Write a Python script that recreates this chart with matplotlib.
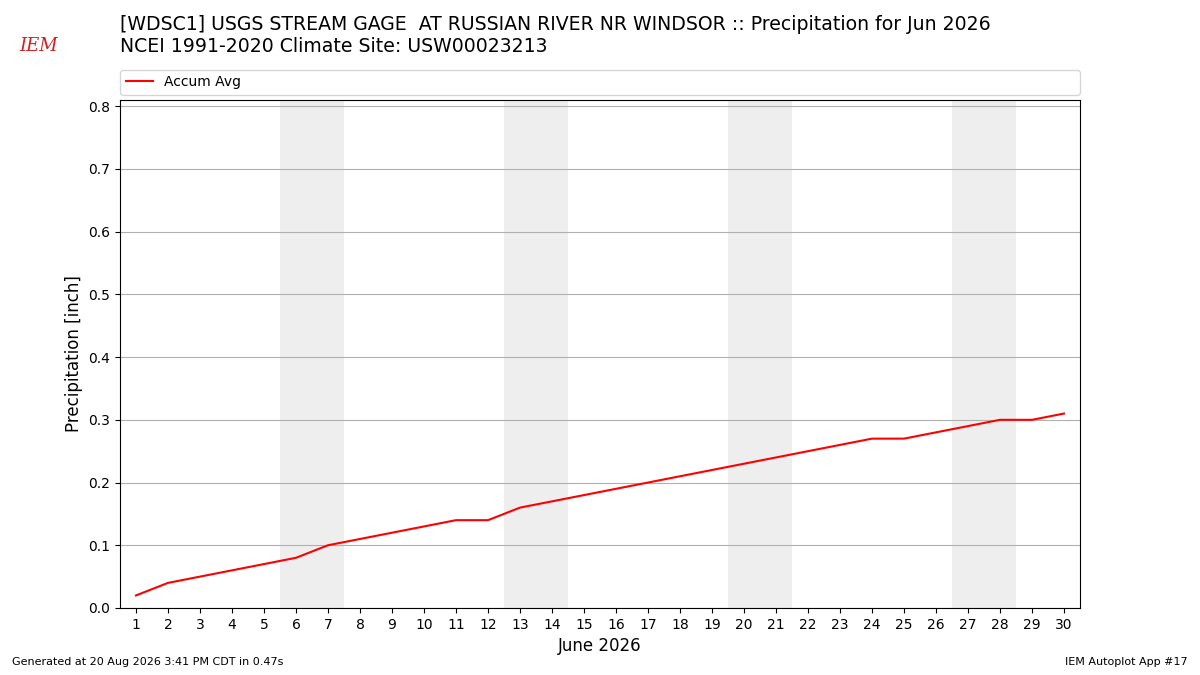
import matplotlib
matplotlib.use("Agg")
import matplotlib.pyplot as plt

days = list(range(1, 31))
accum_avg = [0.02, 0.04, 0.05, 0.06, 0.07, 0.08, 0.10, 0.11, 0.12, 0.13,
             0.14, 0.14, 0.16, 0.17, 0.18, 0.19, 0.20, 0.21, 0.22, 0.23,
             0.24, 0.25, 0.26, 0.27, 0.27, 0.28, 0.29, 0.30, 0.30, 0.31]
weekend_starts = [6, 13, 20, 27]
yticks = [0.0, 0.1, 0.2, 0.3, 0.4, 0.5, 0.6, 0.7, 0.8]

fig = plt.figure(figsize=(12, 6.75), dpi=100)
ax = fig.add_axes([0.1, 0.0993, 0.8, 0.7526])

# weekend shading
for d in weekend_starts:
    ax.axvspan(d - 0.5, d + 1.5, color="#eeeeee", zorder=0, lw=0)

ax.plot(days, accum_avg, color="red", lw=1.5, label="Accum Avg", zorder=3)

ax.set_xlim(0.5, 30.5)
ax.set_ylim(0, 0.81)
ax.set_xticks(days)
ax.set_yticks(yticks)
ax.tick_params(labelsize=10)
ax.grid(axis="y", color="#b0b0b0", lw=0.8)
ax.set_axisbelow(True)
ax.set_xlabel("June 2026", fontsize=12)
ax.set_ylabel("Precipitation [inch]", fontsize=12)

ax.legend(loc="lower left", bbox_to_anchor=(0, 1.01, 1, 0.05), mode="expand",
          ncol=1, fontsize=10, borderaxespad=0)

fig.text(0.1, 0.947, "[WDSC1] USGS STREAM GAGE  AT RUSSIAN RIVER NR WINDSOR :: Precipitation for Jun 2026\n"
         "NCEI 1991-2020 Climate Site: USW00023213", fontsize=13.6, va="center", ha="left")

# logo stand-in
fig.text(0.032, 0.932, "IEM", color="#d42020", fontsize=13, family="DejaVu Serif",
         style="italic", ha="center", va="center")

fig.text(0.01, 0.015, "Generated at 20 Aug 2026 3:41 PM CDT in 0.47s", fontsize=8)
fig.text(0.99, 0.015, "IEM Autoplot App #17", fontsize=8, ha="right")

fig.savefig("out.png", dpi=100)
